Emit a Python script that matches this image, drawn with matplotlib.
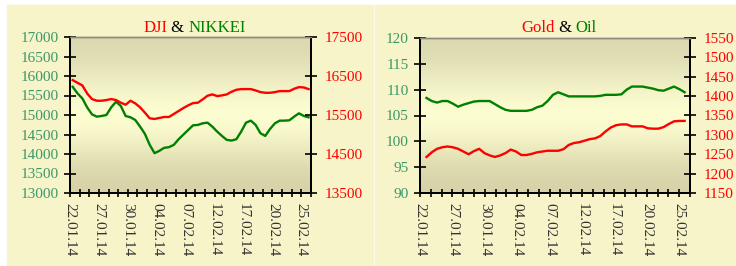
import matplotlib
matplotlib.use("Agg")
import matplotlib.pyplot as plt
import numpy as np
from matplotlib.patches import Rectangle

plt.rcParams['font.family'] = ['Liberation Serif', 'DejaVu Serif']

# x tick labels (every third trading day)
dates = ['22.01.14', '27.01.14', '30.01.14', '04.02.14', '07.02.14',
         '12.02.14', '17.02.14', '20.02.14', '25.02.14']

# axis ticks
nikkei_ticks = np.arange(13000, 17001, 500)
dji_ticks = np.arange(13500, 17501, 1000)
oil_ticks = np.arange(90, 121, 5)
gold_ticks = np.arange(1150, 1551, 50)

# values, 50 samples across the period
dji = [16394, 16326, 16258, 16053, 15909, 15866, 15866, 15883, 15909, 15883,
       15815, 15764, 15866, 15798, 15696, 15560, 15415, 15398, 15424, 15449,
       15449, 15526, 15602, 15679, 15747, 15806, 15815, 15900, 15994, 16028,
       15985, 16002, 16028, 16096, 16147, 16164, 16164, 16164, 16130, 16087,
       16070, 16070, 16087, 16113, 16113, 16113, 16172, 16215, 16206, 16164]
nikkei = [15723, 15553, 15426, 15196, 15017, 14958, 14975, 15000, 15196, 15341,
          15230, 14975, 14941, 14872, 14702, 14515, 14234, 14021, 14081, 14158,
          14175, 14234, 14379, 14498, 14617, 14736, 14745, 14787, 14804, 14702,
          14575, 14464, 14362, 14345, 14379, 14575, 14804, 14855, 14745, 14532,
          14464, 14643, 14787, 14855, 14855, 14864, 14958, 15043, 14975, 14941]
gold = [1243, 1255, 1264, 1268, 1270, 1268, 1264, 1257, 1250, 1258,
        1264, 1253, 1247, 1243, 1247, 1253, 1262, 1257, 1248, 1248,
        1251, 1255, 1257, 1259, 1259, 1259, 1263, 1274, 1279, 1281,
        1285, 1289, 1291, 1297, 1309, 1319, 1325, 1327, 1327, 1322,
        1322, 1322, 1317, 1316, 1316, 1320, 1328, 1335, 1336, 1336]
oil = [108.4, 107.8, 107.5, 107.8, 107.8, 107.3, 106.7, 107.1, 107.4, 107.7,
       107.8, 107.8, 107.8, 107.2, 106.6, 106.1, 105.9, 105.9, 105.9, 105.9,
       106.1, 106.6, 106.9, 107.8, 109.0, 109.5, 109.1, 108.7, 108.7, 108.7,
       108.7, 108.7, 108.7, 108.8, 109.0, 109.0, 109.0, 109.1, 110.0, 110.6,
       110.6, 110.6, 110.4, 110.2, 109.9, 109.8, 110.2, 110.6, 110.1, 109.5]

W, H = 736, 266
fig = plt.figure(figsize=(W / 100, H / 100), dpi=100, facecolor='white')

panel = '#f6f4c8'
fig.patches.append(Rectangle((7 / W, 0), (373 - 7) / W, (H - 5) / H,
                             transform=fig.transFigure, color=panel, zorder=-10))
fig.patches.append(Rectangle((375 / W, 0), (W - 375) / W, (H - 5) / H,
                             transform=fig.transFigure, color=panel, zorder=-10))

# vertical gradient for the plot area
t = np.linspace(0, 1, 256)
dark_top = np.array([0.85, 0.84, 0.68])
dark_bot = np.array([0.83, 0.81, 0.64])
light = np.array([0.99, 0.99, 0.82])
w = np.exp(-((t - 0.5) / 0.3) ** 2)
grad = np.empty((256, 1, 3))
for i in range(256):
    base = dark_bot if t[i] < 0.5 else dark_top
    grad[i, 0] = base + (light - base) * w[i]

green_lbl = '#3c9868'


def make_chart(rect, left_vals, right_vals, left_ticks, right_ticks, xs,
               title_parts):
    ax = fig.add_axes(rect)
    ax.patch.set_visible(False)
    ax.imshow(grad, extent=(0, 1, 0, 1), transform=ax.transAxes,
              aspect='auto', origin='lower', zorder=0)
    ax.set_xlim(0, 25)
    ax.set_ylim(left_ticks[0], left_ticks[-1])
    ax.set_yticks(left_ticks)
    ax.set_xticks(range(0, 25, 3))
    ax.set_xticklabels(dates, rotation=270, fontsize=11, color='#333333')
    ax.set_xticks(range(26), minor=True)
    ax.tick_params(axis='x', which='both', direction='inout', length=6,
                   width=1.2, pad=4)
    ax.tick_params(axis='y', direction='inout', length=8, width=1.2,
                   labelsize=11, labelcolor=green_lbl, pad=4)
    for lab in ax.get_xticklabels():
        lab.set_verticalalignment('top')
    ax.plot(xs, left_vals, color='#008000', lw=1.7, zorder=3)

    ax2 = ax.twinx()
    ax2.set_ylim(right_ticks[0], right_ticks[-1])
    ax2.set_yticks(right_ticks)
    ax2.tick_params(axis='y', direction='inout', length=8, width=1.2,
                    labelsize=11, labelcolor='#ff0000', pad=6)
    ax2.plot(xs, right_vals, color='#ff0000', lw=1.7, zorder=3)

    for a in (ax, ax2):
        for s in ('left', 'right', 'bottom'):
            a.spines[s].set_linewidth(1.3)
            a.spines[s].set_color('black')
        a.spines['top'].set_color('#8a8a80')
        a.spines['top'].set_linewidth(1.0)

    # multi-coloured title centred above the plot
    renderer = fig.canvas.get_renderer()
    texts = [fig.text(0, 0, s, color=c, fontsize=12) for s, c in title_parts]
    widths = [tx.get_window_extent(renderer).width for tx in texts]
    cx = (rect[0] + rect[2] / 2) * W + 4
    x0 = cx - sum(widths) / 2
    for tx, wd in zip(texts, widths):
        tx.set_position((x0 / W, (H - 32) / H))
        x0 += wd
    return ax, ax2


xs_left = np.linspace(0.28, 24.75, len(dji))
xs_right = np.linspace(0.6, 24.5, len(gold))

make_chart([70 / W, (H - 193) / H, 241 / W, 156 / H], nikkei, dji,
           nikkei_ticks, dji_ticks, xs_left,
           [('DJI', '#ff0000'), (' & ', 'black'), ('NIKKEI', '#008000')])
make_chart([420 / W, (H - 193) / H, 270 / W, 155 / H], oil, gold,
           oil_ticks, gold_ticks, xs_right,
           [('Gold', '#ff0000'), (' & ', 'black'), ('Oil', '#008000')])

fig.savefig('out.png', dpi=100, facecolor='white')
